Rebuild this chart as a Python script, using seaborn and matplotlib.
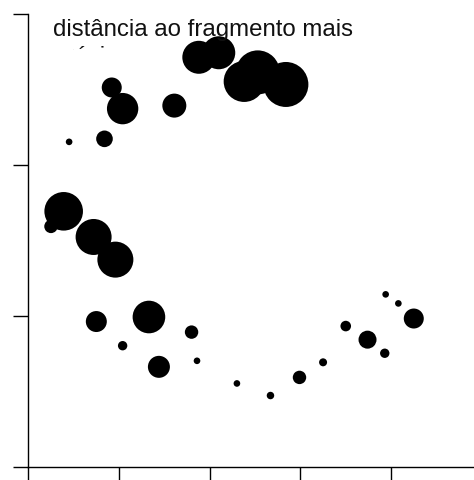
import numpy as np
import pandas as pd
import matplotlib
matplotlib.use('Agg')
import matplotlib.pyplot as plt
from matplotlib.transforms import Bbox, TransformedBbox
import seaborn as sns

# Valores (eixos sem rótulos, unidades = passo dos ticks)
x_vals = [0.45, 0.84, 0.92, 1.04, 1.61, 1.88, 2.10, 2.38, 2.53, 2.84,
          0.39, 0.25, 0.72, 0.96, 0.75, 1.33, 1.80, 1.04, 1.44, 1.86,
          2.30, 2.67, 2.99, 3.25, 3.94, 4.08, 4.25, 3.50, 3.74, 3.93]
y_vals = [2.15, 2.17, 2.51, 2.37, 2.39, 2.71, 2.74, 2.55, 2.61, 2.53,
          1.69, 1.59, 1.52, 1.37, 0.96, 0.99, 0.89, 0.80, 0.66, 0.70,
          0.55, 0.47, 0.59, 0.69, 1.14, 1.08, 0.98, 0.93, 0.84, 0.75]
peso = [11, 69, 100, 246, 144, 272, 272, 420, 484, 506,
        372, 45, 324, 324, 110, 266, 45, 22, 121, 11,
        11, 14, 45, 16, 11, 11, 100, 28, 81, 22]

x_ticks = [0, 1, 2, 3, 4, 5]
y_ticks = [0, 1, 2, 3]
titulo = "distância ao fragmento mais\npróximo"

df = pd.DataFrame({'x': x_vals, 'y': y_vals, 'peso': peso})

sns.set_style('ticks')
plt.rcParams['font.family'] = ['Liberation Sans', 'DejaVu Sans']
plt.rcParams['axes.edgecolor'] = 'black'

fig = plt.figure(figsize=(4.74, 4.80), dpi=100)
ax = fig.add_axes([28.3 / 474, 13.5 / 480, 453.5 / 474, 453 / 480])

# area in pt^2 proportional to peso (1 px = 0.72 pt)
k = (2 * 0.72) ** 2
sns.scatterplot(data=df, x='x', y='y', size='peso',
                sizes=(min(peso) * k, max(peso) * k),
                size_norm=(min(peso), max(peso)),
                color='black', linewidth=0, alpha=1,
                legend=False, ax=ax)

ax.set_xlim(0, 5)
ax.set_ylim(0, 3)
ax.set_xticks(x_ticks)
ax.set_yticks(y_ticks)
ax.set_xticklabels([])
ax.set_yticklabels([])
ax.set_xlabel('')
ax.set_ylabel('')
ax.tick_params(direction='out', length=11, width=1.0, color='black')
for s in ['left', 'bottom']:
    ax.spines[s].set_linewidth(1.0)
sns.despine(ax=ax)

# title: second line is cut off just under the top of its glyphs
t = fig.text(53 / 474, (480 - 63.5) / 480, titulo, ha='left', va='baseline',
             fontsize=17.3, color='#111111', linespacing=1.3)
t.set_clip_box(TransformedBbox(Bbox([[0, (480 - 49.5) / 480], [1, 1]]),
                               fig.transFigure))
t.set_clip_on(True)

fig.savefig('out.png', dpi=100)
